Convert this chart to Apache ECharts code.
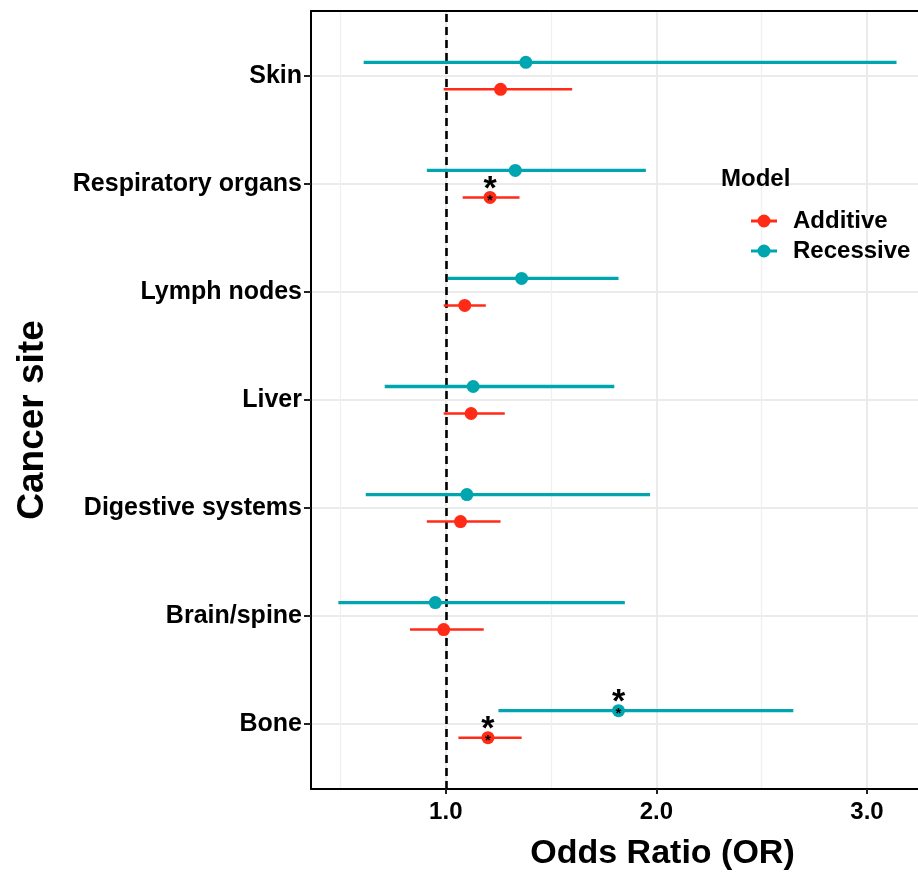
<!DOCTYPE html>
<html>
<head>
<meta charset="utf-8">
<script src="https://cdn.jsdelivr.net/npm/echarts@6/dist/echarts.min.js"></script>
<style>
  html, body { margin: 0; padding: 0; background: #fff; }
  #chart { width: 918px; height: 876px; }
</style>
</head>
<body>
<div id="chart"></div>
<script>
// ---- data (bottom to top) ----
const categories   = ['Bone', 'Brain/spine', 'Digestive systems', 'Liver', 'Lymph nodes', 'Respiratory organs', 'Skin'];
const additiveOR   = [1.20, 0.99, 1.07, 1.12, 1.09, 1.21, 1.26];
const additiveLo   = [1.06, 0.83, 0.91, 0.99, 0.99, 1.08, 0.99];
const additiveHi   = [1.36, 1.18, 1.26, 1.28, 1.19, 1.35, 1.60];
const additiveSig  = [true, false, false, false, false, true, false];
const recessiveOR  = [1.82, 0.95, 1.10, 1.13, 1.36, 1.33, 1.38];
const recessiveLo  = [1.25, 0.49, 0.62, 0.71, 1.01, 0.91, 0.61];
const recessiveHi  = [2.65, 1.85, 1.97, 1.80, 1.82, 1.95, 3.14];
const recessiveSig = [true, false, false, false, false, false, false];
const catTicks     = [1, 2, 3, 4, 5, 6, 7];
const xTicks       = [1, 2, 3];
const xMinorGrid   = [0.5, 1.5, 2.5];
const refLine      = 1;
const seriesNames  = ['Additive', 'Recessive'];

const RED = '#FF2B17';
const TEAL = '#00A6AF';
const DODGE = 0.125;
const FONT = '"Liberation Sans", Arial, Helvetica, sans-serif';

function buildData(or, lo, hi, sig, offset) {
  return categories.map((c, i) => [or[i], i + 1 + offset, lo[i], hi[i], sig[i] ? 1 : 0]);
}

function makeRender(color, lineW) {
  return function (params, api) {
    const y = api.value(1);
    const p0 = api.coord([api.value(2), y]);
    const p1 = api.coord([api.value(3), y]);
    const pc = api.coord([api.value(0), y]);
    const children = [
      { type: 'line', shape: { x1: p0[0], y1: p0[1], x2: p1[0], y2: p1[1] },
        style: { stroke: color, lineWidth: lineW } },
      { type: 'circle', shape: { cx: pc[0], cy: pc[1], r: 6.5 }, style: { fill: color } }
    ];
    if (api.value(4) === 1) {
      children.push({ type: 'text', x: pc[0], y: pc[1] - 8,
        style: { text: '*', font: 'bold 34px ' + FONT, fill: '#000', align: 'center', verticalAlign: 'middle' } });
      children.push({ type: 'text', x: pc[0], y: pc[1] + 3,
        style: { text: '*', font: 'bold 15px ' + FONT, fill: '#000', align: 'center', verticalAlign: 'middle' } });
    }
    return { type: 'group', children: children };
  };
}

const legendIcon = 'path://M0,5 H26 V8 H0 Z M6.5,6.5 A6.5,6.5 0 1,1 19.5,6.5 A6.5,6.5 0 1,1 6.5,6.5 Z';

const chart = echarts.init(document.getElementById('chart'), null, { renderer: 'canvas' });
chart.setOption({
  backgroundColor: '#fff',
  animation: false,
  textStyle: { fontFamily: FONT },
  title: {
    text: 'Model', left: 721, top: 167, padding: 0,
    textStyle: { fontSize: 24, fontWeight: 'bold', color: '#000', fontFamily: FONT }
  },
  legend: {
    orient: 'vertical', left: 751, top: 209, padding: 0,
    itemWidth: 26, itemHeight: 13, itemGap: 6,
    data: [
      { name: seriesNames[0], icon: legendIcon, itemStyle: { color: RED } },
      { name: seriesNames[1], icon: legendIcon, itemStyle: { color: TEAL } }
    ],
    textStyle: { fontSize: 24, fontWeight: 'bold', color: '#000', fontFamily: FONT, lineHeight: 24, padding: [0, 0, 0, 11] }
  },
  grid: {
    left: 311, right: 0, top: 11, bottom: 70,
    show: false
  },
  xAxis: [{
    type: 'value', min: 0.36, max: 3.242, position: 'bottom',
    name: 'Odds Ratio (OR)', nameLocation: 'middle', nameGap: 48,
    nameTextStyle: { fontSize: 34, fontWeight: 'bold', color: '#000', fontFamily: FONT, padding: [0, 0, 0, 96] },
    axisLine: { show: true, onZero: false, lineStyle: { color: '#000', width: 2 } },
    axisTick: { show: true, length: 5, customValues: xTicks, lineStyle: { color: '#222', width: 2 } },
    axisLabel: { customValues: xTicks, margin: 11, fontSize: 24, fontWeight: 'bold', color: '#000', fontFamily: FONT,
      formatter: v => v.toFixed(1) },
    splitLine: { show: true, lineStyle: { color: '#EBEBEB', width: 2 } }
  }, {
    type: 'value', min: 0.36, max: 3.242, position: 'top',
    axisLine: { show: true, onZero: false, lineStyle: { color: '#000', width: 2 } },
    axisLabel: { show: false },
    axisTick: { show: false, customValues: xMinorGrid },
    splitLine: { show: true, lineStyle: { color: '#F0F0F0', width: 1.3 } }
  }],
  yAxis: {
    type: 'value', min: 0.4, max: 7.6,
    name: 'Cancer site', nameLocation: 'middle', nameGap: 260, nameRotate: 90,
    nameTextStyle: { fontSize: 37, fontWeight: 'bold', color: '#000', fontFamily: FONT, padding: [0, 40, 0, 0] },
    axisLine: { show: true, onZero: false, lineStyle: { color: '#000', width: 2 } },
    axisTick: { show: true, length: 7, customValues: catTicks, lineStyle: { color: '#222', width: 2 } },
    axisLabel: { customValues: catTicks, margin: 9, fontSize: 25, fontWeight: 'bold', color: '#000', fontFamily: FONT,
      formatter: v => categories[Math.round(v) - 1] || '' },
    splitLine: { show: true, lineStyle: { color: '#EBEBEB', width: 2 } }
  },
  series: [
    {
      name: seriesNames[0], type: 'custom', renderItem: makeRender(RED, 2.5),
      itemStyle: { color: RED }, z: 5,
      encode: { x: [0, 2, 3], y: 1 },
      data: buildData(additiveOR, additiveLo, additiveHi, additiveSig, -DODGE),
      markLine: {
        silent: true, symbol: 'none', z: 3,
        label: { show: false },
        lineStyle: { color: '#000', type: [8, 5], width: 2.6 },
        data: [{ xAxis: refLine }]
      }
    },
    {
      name: seriesNames[1], type: 'custom', renderItem: makeRender(TEAL, 3.3),
      itemStyle: { color: TEAL }, z: 4,
      encode: { x: [0, 2, 3], y: 1 },
      data: buildData(recessiveOR, recessiveLo, recessiveHi, recessiveSig, DODGE)
    }
  ]
});
</script>
</body>
</html>
